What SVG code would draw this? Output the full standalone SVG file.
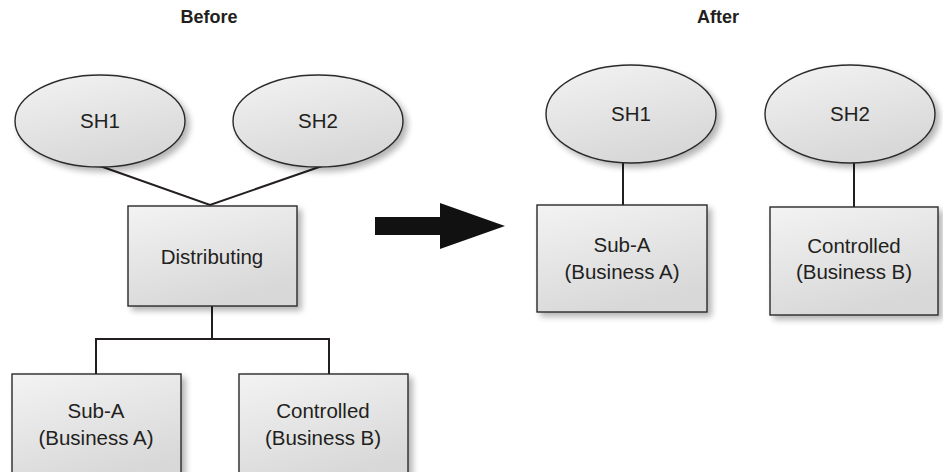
<svg xmlns="http://www.w3.org/2000/svg" width="943" height="472" viewBox="0 0 943 472">
<defs>
<linearGradient id="g" x1="0" y1="0" x2="0.4" y2="1">
<stop offset="0" stop-color="#f3f3f3"/>
<stop offset="1" stop-color="#d8d8d8"/>
</linearGradient>
<filter id="sh" x="-20%" y="-20%" width="150%" height="150%">
<feGaussianBlur in="SourceAlpha" stdDeviation="3"/>
<feOffset dx="4" dy="4" result="b"/>
<feComponentTransfer><feFuncA type="linear" slope="0.3"/></feComponentTransfer>
<feMerge><feMergeNode/><feMergeNode in="SourceGraphic"/></feMerge>
</filter>
</defs>
<style>
.n{fill:url(#g);stroke:#2a2a2a;stroke-width:1.4;filter:url(#sh)}
.t{font-family:"Liberation Sans",Arial,sans-serif;font-size:20.5px;fill:#231f20;text-anchor:middle}
.h{font-family:"Liberation Sans",Arial,sans-serif;font-size:18px;font-weight:bold;fill:#231f20;text-anchor:middle}
.c{stroke:#231f20;stroke-width:2;fill:none}
</style>
<rect width="943" height="472" fill="#fff"/>
<text class="h" x="209" y="23">Before</text>
<text class="h" x="718" y="23">After</text>
<g id="connectors">
<path class="c" d="M100 166 L210 205 L322 166"/>
<path class="c" d="M212 306 V339 M96 339 H329 M96 338 V374 M329 338 V374"/>
<path class="c" d="M623 162 V205"/>
<path class="c" d="M854 162 V207"/>
</g>
<g id="arrow"><polygon points="375,217 440,217 440,203 505,226 440,249 440,235 375,235" fill="#111"/></g>
<g id="b-sh1"><ellipse class="n" cx="100" cy="121" rx="85" ry="46"/><text class="t" x="100" y="128">SH1</text></g>
<g id="b-sh2"><ellipse class="n" cx="318" cy="121" rx="85" ry="46"/><text class="t" x="318" y="128">SH2</text></g>
<g id="b-dist"><rect class="n" x="128" y="206" width="169" height="100"/><text class="t" x="212" y="264">Distributing</text></g>
<g id="b-suba"><rect class="n" x="12" y="374" width="169" height="110"/><text class="t" x="96" y="418">Sub-A</text><text class="t" x="96" y="445">(Business A)</text></g>
<g id="b-ctrl"><rect class="n" x="239" y="374" width="169" height="110"/><text class="t" x="323" y="418">Controlled</text><text class="t" x="323" y="445">(Business B)</text></g>
<g id="a-sh1"><ellipse class="n" cx="631" cy="114" rx="85" ry="49"/><text class="t" x="631" y="121">SH1</text></g>
<g id="a-sh2"><ellipse class="n" cx="850" cy="114" rx="85" ry="49"/><text class="t" x="850" y="121">SH2</text></g>
<g id="a-suba"><rect class="n" x="537" y="205" width="170" height="107"/><text class="t" x="622" y="252">Sub-A</text><text class="t" x="622" y="279">(Business A)</text></g>
<g id="a-ctrl"><rect class="n" x="770" y="207" width="168" height="108"/><text class="t" x="854" y="253">Controlled</text><text class="t" x="854" y="279">(Business B)</text></g>
</svg>
